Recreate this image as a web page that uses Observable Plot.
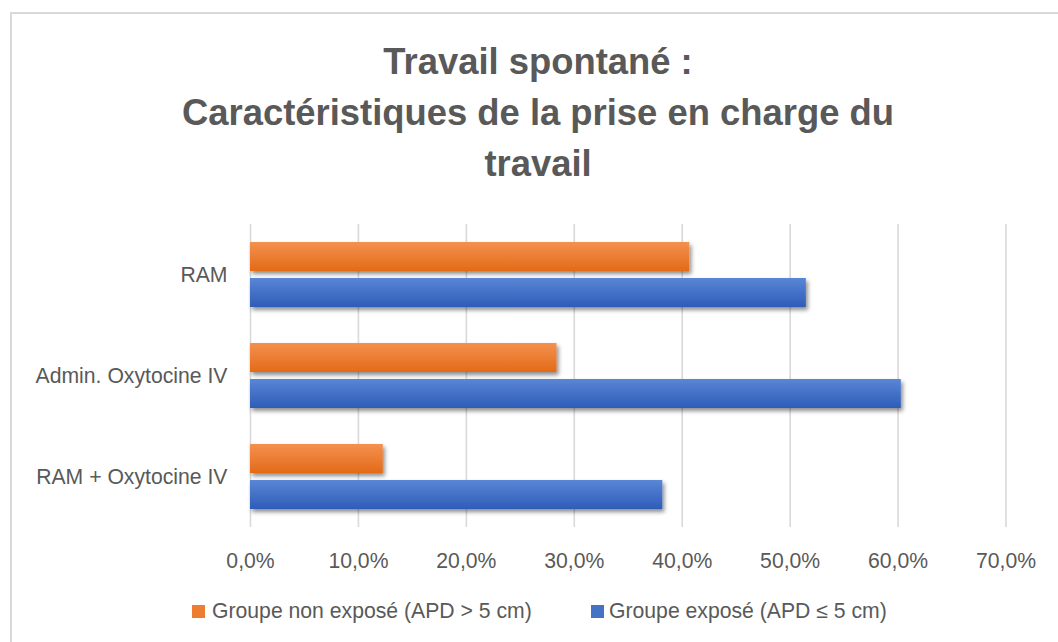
<!DOCTYPE html>
<html>
<head>
<meta charset="utf-8">
<script src="https://cdn.jsdelivr.net/npm/d3@7"></script>
<script src="https://cdn.jsdelivr.net/npm/@observablehq/plot@0.6"></script>
<style>
  html, body { margin: 0; padding: 0; background: #fff; width: 1058px; height: 642px; overflow: hidden; }
  body { position: relative; font-family: "Liberation Sans", Arial, sans-serif; color: #595959; }
  #frame { position: absolute; left: 10px; top: 12px; width: 2000px; height: 2000px; border-left: 2px solid #d9d9d9; border-top: 2px solid #d9d9d9; }
  #title { position: absolute; left: 38px; top: 36px; width: 1000px; text-align: center; font-size: 36.4px; line-height: 51px; font-weight: bold; color: #595959; }
  #chart { position: absolute; left: 0; top: 0; }
  .sq { position: absolute; width: 13px; height: 13px; }
  .lt { position: absolute; font-size: 21.2px; line-height: 24px; white-space: nowrap; color: #595959; }
</style>
</head>
<body>
<div id="frame"></div>
<div id="chart"></div>
<div id="title">Travail spontané :<br>Caractéristiques de la prise en charge du<br>travail</div>
<div class="sq" style="left:192px; top:605px; background:#ed7d31;"></div>
<div class="lt" style="left:212px; top:599px;">Groupe non exposé (APD &gt; 5 cm)</div>
<div class="sq" style="left:591px; top:605px; background:#4472c4;"></div>
<div class="lt" style="left:609px; top:599px;">Groupe exposé (APD ≤ 5 cm)</div>
<script>
const categories = ["RAM", "Admin. Oxytocine IV", "RAM + Oxytocine IV"];
const seriesNames = ["Groupe non exposé (APD > 5 cm)", "Groupe exposé (APD ≤ 5 cm)"];
const nonExpose = [0.407, 0.284, 0.123];
const expose = [0.515, 0.603, 0.382];
const xTicks = [0, 0.1, 0.2, 0.3, 0.4, 0.5, 0.6, 0.7];

const rowsNon = categories.map((c, i) => ({cat: c, serie: seriesNames[0], value: nonExpose[i]}));
const rowsExp = categories.map((c, i) => ({cat: c, serie: seriesNames[1], value: expose[i]}));

const fmt = d => (d * 100).toFixed(1).replace(".", ",") + "%";

const chart = Plot.plot({
  width: 1058,
  height: 600,
  marginLeft: 250,
  marginRight: 52.5,
  marginTop: 223,
  marginBottom: 73,
  style: {fontFamily: "Liberation Sans, Arial, sans-serif", fontSize: "21.2px", color: "#595959", background: "transparent", overflow: "visible"},
  x: {domain: [0, 0.7], ticks: xTicks, tickFormat: fmt, tickSize: 0, tickPadding: 25, label: null},
  y: {domain: seriesNames, paddingInner: 0.189, paddingOuter: 0.464, axis: null},
  fy: {domain: categories, padding: 0, axis: "left", tickSize: 0, tickPadding: 23, label: null},
  marks: [
    Plot.gridX(xTicks, {stroke: "#d9d9d9", strokeOpacity: 1, strokeWidth: 1.6}),
    Plot.barX(rowsNon, {x: "value", y: "serie", fy: "cat", fill: "url(#gradO)"}),
    Plot.barX(rowsExp, {x: "value", y: "serie", fy: "cat", fill: "url(#gradB)"})
  ]
});

const defs = document.createElementNS("http://www.w3.org/2000/svg", "defs");
defs.innerHTML = `
  <linearGradient id="gradO" x1="0" y1="0" x2="0" y2="1">
    <stop offset="0" stop-color="#f4914f"/>
    <stop offset="1" stop-color="#e36a18"/>
  </linearGradient>
  <linearGradient id="gradB" x1="0" y1="0" x2="0" y2="1">
    <stop offset="0" stop-color="#5a86d6"/>
    <stop offset="1" stop-color="#2d5cb8"/>
  </linearGradient>
  <filter id="shadow" x="-10%" y="-30%" width="130%" height="180%">
    <feDropShadow dx="2" dy="3" stdDeviation="2" flood-color="#000" flood-opacity="0.45"/>
  </filter>`;
chart.prepend(defs);
chart.querySelectorAll('g[aria-label="bar"] rect').forEach(r => r.setAttribute("filter", "url(#shadow)"));
document.getElementById("chart").appendChild(chart);
</script>
</body>
</html>
